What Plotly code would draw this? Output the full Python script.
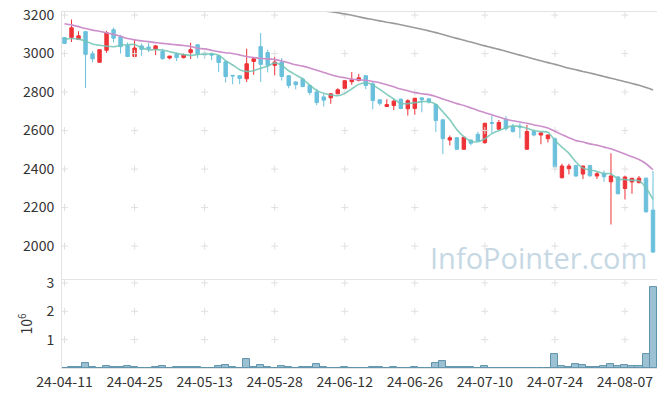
import plotly.graph_objects as go

dates = [
    "24-04-11", "24-04-12", "24-04-15", "24-04-16", "24-04-17", "24-04-18", "24-04-19",
    "24-04-22", "24-04-23", "24-04-24", "24-04-25", "24-04-26", "24-04-29", "24-04-30",
    "24-05-02", "24-05-03", "24-05-07", "24-05-08", "24-05-09", "24-05-10", "24-05-13",
    "24-05-14", "24-05-16", "24-05-17", "24-05-20", "24-05-21", "24-05-22", "24-05-23",
    "24-05-24", "24-05-27", "24-05-28", "24-05-29", "24-05-30", "24-05-31",
    "24-06-03", "24-06-04", "24-06-05", "24-06-07", "24-06-10", "24-06-11", "24-06-12",
    "24-06-13", "24-06-14", "24-06-17", "24-06-18", "24-06-19", "24-06-20", "24-06-21",
    "24-06-24", "24-06-25", "24-06-26", "24-06-27", "24-06-28",
    "24-07-01", "24-07-02", "24-07-03", "24-07-04", "24-07-05", "24-07-08", "24-07-09",
    "24-07-10", "24-07-11", "24-07-12", "24-07-15", "24-07-16", "24-07-17", "24-07-18",
    "24-07-19", "24-07-22", "24-07-23", "24-07-24", "24-07-25", "24-07-26", "24-07-29",
    "24-07-30", "24-07-31",
    "24-08-01", "24-08-02", "24-08-05", "24-08-06", "24-08-07", "24-08-08", "24-08-09",
    "24-08-12", "24-08-13",
]

open_ = [3083, 3084, 3074, 3114, 2999, 2955, 3017, 3124, 3087, 3042,
         2985, 3040, 3034, 3023, 3011, 2977, 2996, 2979, 3005, 3046,
         3003, 2998, 2989, 2958, 2887, 2885, 2869, 2959, 3036, 3005,
         2939, 2956, 2885, 2853, 2867, 2834, 2801, 2775, 2770, 2791,
         2819, 2854, 2860, 2885, 2843, 2760, 2725, 2730, 2763, 2713,
         2715, 2770, 2765, 2735, 2656, 2551, 2563, 2503, 2551, 2581,
         2537, 2642, 2607, 2660, 2619, 2623, 2503, 2595, 2577, 2558,
         2557, 2355, 2402, 2419, 2374, 2419, 2364, 2378, 2334, 2359,
         2299, 2333, 2329, 2353, 2187]
high = [3086, 3177, 3116, 3116, 3013, 3022, 3118, 3135, 3097, 3058,
        3071, 3052, 3055, 3045, 3025, 2988, 3006, 3000, 3057, 3047,
        3010, 3006, 2990, 2960, 2888, 2888, 3025, 2975, 3107, 3020,
        2982, 2977, 2888, 2855, 2876, 2840, 2817, 2789, 2794, 2820,
        2862, 2904, 2895, 2886, 2859, 2760, 2763, 2763, 2767, 2763,
        2770, 2771, 2766, 2737, 2657, 2574, 2565, 2567, 2553, 2593,
        2640, 2680, 2655, 2675, 2635, 2638, 2630, 2607, 2590, 2580,
        2564, 2428, 2428, 2421, 2417, 2421, 2386, 2393, 2482, 2364,
        2366, 2355, 2364, 2355, 2390]
low = [3050, 3060, 3072, 2821, 2955, 2953, 3004, 3058, 3000, 2982,
       2981, 2988, 3008, 2992, 2968, 2970, 2961, 2975, 2972, 2975,
       2975, 2965, 2904, 2850, 2840, 2841, 2852, 2890, 2852, 2902,
       2887, 2860, 2820, 2814, 2825, 2784, 2732, 2725, 2739, 2789,
       2815, 2838, 2855, 2815, 2711, 2730, 2723, 2706, 2711, 2678,
       2682, 2695, 2740, 2593, 2478, 2523, 2500, 2500, 2523, 2543,
       2532, 2586, 2604, 2600, 2590, 2560, 2500, 2570, 2529, 2538,
       2400, 2352, 2372, 2360, 2348, 2360, 2348, 2334, 2112, 2268,
       2242, 2272, 2327, 2173, 1965]
close = [3053, 3134, 3092, 2996, 2973, 3020, 3108, 3080, 3036, 2985,
         3029, 3022, 3026, 3040, 2974, 2987, 2979, 2993, 3020, 2998,
         2993, 2992, 2954, 2881, 2884, 2871, 2947, 2973, 2944, 2939,
         2956, 2881, 2834, 2838, 2829, 2798, 2746, 2758, 2791, 2812,
         2859, 2864, 2874, 2834, 2756, 2742, 2735, 2753, 2715, 2755,
         2768, 2760, 2749, 2652, 2558, 2563, 2503, 2565, 2534, 2546,
         2638, 2638, 2642, 2610, 2595, 2619, 2595, 2577, 2588, 2577,
         2412, 2416, 2416, 2364, 2416, 2365, 2376, 2360, 2364, 2272,
         2359, 2352, 2353, 2178, 1969]

# volume in millions of shares
volume_m = [0.01, 0.03, 0.03, 0.18, 0.03, 0.01, 0.07, 0.03, 0.03, 0.07,
            0.03, 0.01, 0.01, 0.03, 0.07, 0.01, 0.03, 0.03, 0.03, 0.03,
            0.01, 0.01, 0.07, 0.11, 0.03, 0.01, 0.33, 0.03, 0.11, 0.03,
            0.01, 0.07, 0.03, 0.01, 0.03, 0.03, 0.15, 0.03, 0.01, 0.01,
            0.03, 0.01, 0.01, 0.01, 0.03, 0.03, 0.01, 0.03, 0.01, 0.01,
            0.02, 0.01, 0.01, 0.18, 0.25, 0.03, 0.03, 0.03, 0.03, 0.01,
            0.07, 0.01, 0.01, 0.01, 0.01, 0.01, 0.01, 0.01, 0.01, 0.01,
            0.49, 0.07, 0.03, 0.14, 0.11, 0.03, 0.03, 0.07, 0.14, 0.07,
            0.11, 0.07, 0.07, 0.49, 2.85]

ma5 = [3075, 3078, 3075, 3065, 3049.6, 3043.0, 3037.8, 3035.4, 3043.4, 3045.8,
       3047.6, 3030.4, 3019.6, 3020.4, 3018.2, 3009.8, 3001.2, 2994.6, 2990.6, 2995.4,
       2996.6, 2999.2, 2991.4, 2963.6, 2940.8, 2916.4, 2907.4, 2911.2, 2923.8, 2934.8,
       2951.8, 2938.6, 2910.8, 2889.6, 2867.6, 2836.0, 2809.0, 2793.8, 2784.4, 2781.0,
       2793.2, 2816.8, 2840.0, 2848.6, 2837.4, 2814.0, 2788.2, 2764.0, 2740.2, 2740.0,
       2745.2, 2750.2, 2749.4, 2736.8, 2697.4, 2656.4, 2605.0, 2568.2, 2544.6, 2542.2,
       2557.2, 2584.2, 2599.6, 2614.8, 2624.6, 2620.8, 2612.2, 2599.2, 2594.8, 2591.2,
       2549.8, 2514.0, 2481.8, 2437.0, 2404.8, 2395.4, 2387.4, 2376.2, 2376.2, 2347.4,
       2346.2, 2341.4, 2340.0, 2302.8, 2242.2]

ma20 = [3155, 3149, 3140, 3130, 3122, 3116, 3108, 3100, 3090, 3078,
        3071, 3066, 3062, 3057, 3053, 3049, 3045, 3042, 3037, 3027.3,
        3024.3, 3017.2, 3010.3, 3004.5, 3000.1, 2992.6, 2984.6, 2979.2, 2974.6, 2972.3,
        2968.7, 2961.6, 2952.0, 2941.9, 2934.7, 2925.2, 2913.6, 2901.8, 2890.4, 2881.1,
        2874.4, 2868.0, 2864.0, 2861.6, 2855.2, 2848.8, 2838.2, 2827.2, 2815.7, 2806.5,
        2797.1, 2791.1, 2786.8, 2777.5, 2764.0, 2752.2, 2740.1, 2730.4, 2717.6, 2704.3,
        2693.2, 2681.9, 2670.3, 2659.1, 2651.1, 2644.9, 2637.9, 2629.1, 2622.8, 2613.9,
        2596.1, 2578.9, 2562.2, 2547.8, 2540.7, 2530.8, 2524.5, 2514.2, 2505.7, 2492.0,
        2478.1, 2463.8, 2449.3, 2427.7, 2396.4]

# long moving average (visible from 24-06-07 onward)
ma_long_dates = dates[37:]
ma_long = [3222, 3217, 3212, 3206, 3199, 3191, 3183, 3177, 3170, 3163,
           3157, 3150, 3142, 3134, 3126, 3118, 3109, 3099, 3089, 3079,
           3069, 3060, 3050, 3040, 3031, 3022, 3012, 3002, 2992, 2982,
           2972, 2963, 2953, 2944, 2934, 2924, 2916, 2907, 2899, 2890,
           2881, 2872, 2863, 2854, 2845, 2835, 2824, 2811]

tick_labels = ["24-04-11", "24-04-25", "24-05-13", "24-05-28", "24-06-12",
               "24-06-26", "24-07-10", "24-07-24", "24-08-07"]
price_ticks = [2000, 2200, 2400, 2600, 2800, 3000, 3200]
volume_ticks = [1, 2, 3]

RED = "#ee3237"
BLUE = "#6bc0dc"
AXIS = "#e3e3e3"
CROSS = "#e0e0e0"
FONT = "Noto Sans CJK KR"

fig = go.Figure()

# grid crosses
fig.add_trace(go.Scatter(
    x=[t for t in tick_labels for _ in price_ticks],
    y=[p for _ in tick_labels for p in price_ticks],
    mode="markers", xaxis="x", yaxis="y", hoverinfo="skip", showlegend=False,
    marker=dict(symbol="cross-thin", size=5, line=dict(color=CROSS, width=1))))
fig.add_trace(go.Scatter(
    x=[t for t in tick_labels for _ in volume_ticks],
    y=[v for _ in tick_labels for v in volume_ticks],
    mode="markers", xaxis="x2", yaxis="y2", hoverinfo="skip", showlegend=False,
    marker=dict(symbol="cross-thin", size=5, line=dict(color=CROSS, width=1))))

fig.add_trace(go.Candlestick(
    x=dates, open=open_, high=high, low=low, close=close,
    increasing=dict(line=dict(color=RED, width=1), fillcolor=RED),
    decreasing=dict(line=dict(color=BLUE, width=1), fillcolor=BLUE),
    whiskerwidth=0, xaxis="x", yaxis="y", showlegend=False))

fig.add_trace(go.Scatter(x=ma_long_dates, y=ma_long, mode="lines", xaxis="x", yaxis="y",
                         line=dict(color="#9a9a9a", width=1.6, shape="spline", smoothing=0.6),
                         showlegend=False))
fig.add_trace(go.Scatter(x=dates, y=ma20, mode="lines", xaxis="x", yaxis="y",
                         line=dict(color="#cc8fca", width=1.6, shape="spline", smoothing=0.6),
                         showlegend=False))
fig.add_trace(go.Scatter(x=dates, y=ma5, mode="lines", xaxis="x", yaxis="y",
                         line=dict(color="rgba(112,196,180,0.85)", width=1.6, shape="spline", smoothing=0.6),
                         showlegend=False))

fig.add_trace(go.Bar(x=dates, y=volume_m, xaxis="x2", yaxis="y2", showlegend=False,
                     marker=dict(color="rgba(130,178,200,0.8)",
                                 line=dict(color="#5e93ab", width=1))))

xr = [-0.36, 84.57]
common_x = dict(type="category", categoryorder="array", categoryarray=dates,
                range=xr, showgrid=False, zeroline=False, showline=True, mirror=True,
                linecolor=AXIS, linewidth=1, tickvals=tick_labels, automargin=False,
                ticks="outside", ticklen=1, tickcolor="rgba(0,0,0,0)",
                ticklabeloverflow="allow", tickfont=dict(size=14))

common_y = dict(showgrid=False, zeroline=False, showline=True, mirror=True,
                linecolor=AXIS, automargin=False, ticks="outside", ticklen=4,
                tickcolor="rgba(0,0,0,0)", ticklabeloverflow="allow",
                tickfont=dict(size=14))

# the page body has an 8px margin, so the figure is 8px shy on each side
fig.update_layout(
    width=649, height=381,
    margin=dict(l=54, r=0, t=4, b=21),
    paper_bgcolor="white", plot_bgcolor="white",
    font=dict(family=FONT, size=13, color="#333333"),
    bargap=0.0, boxgap=0.3,
    xaxis=dict(common_x, domain=[0, 1], anchor="y", showticklabels=False,
               rangeslider=dict(visible=False)),
    xaxis2=dict(common_x, domain=[0, 1], anchor="y2", showticklabels=True),
    yaxis=dict(common_y, domain=[0.25, 1], range=[1829, 3216], tickvals=price_ticks),
    yaxis2=dict(common_y, domain=[0, 0.247], range=[0, 3.1], tickvals=volume_ticks,
                title=dict(text="10<sup>6</sup>", standoff=10,
                           font=dict(family=FONT, size=14, color="#333333"))),
    annotations=[dict(text="InfoPointer.com", xref="paper", yref="paper",
                      x=0.80, y=0.309, xanchor="center", yanchor="middle",
                      showarrow=False,
                      font=dict(family="Open Sans", size=29, color="#c6d8e4"))],
)

fig.write_html("out.html")
